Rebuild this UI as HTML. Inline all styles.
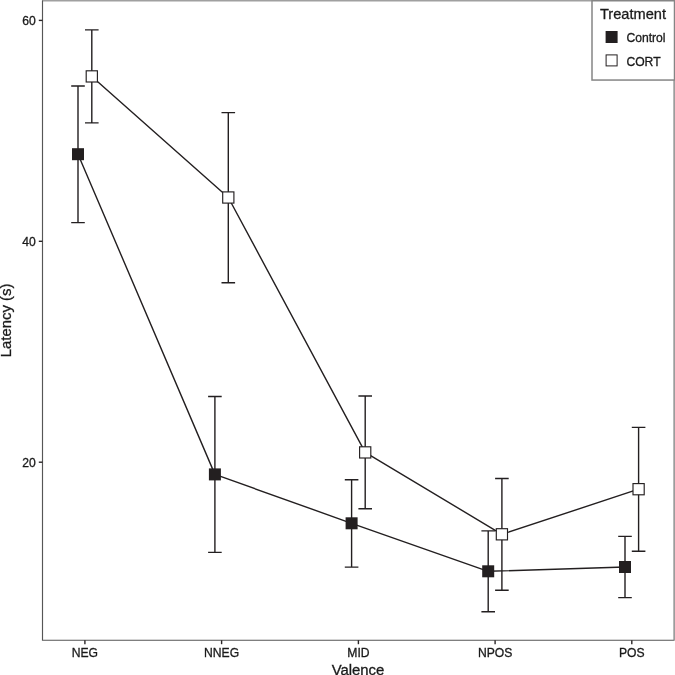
<!DOCTYPE html>
<html lang="en"><head><meta charset="utf-8"><title>Latency by Valence and Treatment</title>
<style>
html,body{margin:0;padding:0;background:#fff;}
body{width:675px;height:675px;overflow:hidden;}
svg{display:block;}
text{font-family:"Liberation Sans",Arial,Helvetica,sans-serif;fill:#1a1a1a;stroke:#1a1a1a;stroke-width:0.3px;}
.t12{font-size:12.15px;}
.t14{font-size:14.6px;}
.ta{font-size:14.9px;}
</style></head><body>
<svg width="675" height="675" viewBox="0 0 675 675">
<rect x="0" y="0" width="675" height="675" fill="#ffffff"/>
<path d="M42 0.75H675" fill="none" stroke="#a0a0a0" stroke-width="1.5"/>
<path d="M674.15 0V640.8" fill="none" stroke="#9c9c9c" stroke-width="1.7"/>
<path d="M42.5 0.5V640.2H673.8" fill="none" stroke="#565656" stroke-width="1.15"/>
<path d="M71.2 86.0H84.8M78.0 86.0V222.6M71.2 222.6H84.8" fill="none" stroke="#231f20" stroke-width="1.4"/>
<path d="M208.1 396.5H221.7M214.9 396.5V552.4M208.1 552.4H221.7" fill="none" stroke="#231f20" stroke-width="1.4"/>
<path d="M344.8 479.8H358.4M351.6 479.8V567.1M344.8 567.1H358.4" fill="none" stroke="#231f20" stroke-width="1.4"/>
<path d="M481.4 530.9H495.0M488.2 530.9V611.8M481.4 611.8H495.0" fill="none" stroke="#231f20" stroke-width="1.4"/>
<path d="M618.2 536.4H631.8M625.0 536.4V597.6M618.2 597.6H631.8" fill="none" stroke="#231f20" stroke-width="1.4"/>
<path d="M85.0 29.9H98.6M91.8 29.9V122.9M85.0 122.9H98.6" fill="none" stroke="#231f20" stroke-width="1.4"/>
<path d="M221.5 112.6H235.1M228.3 112.6V282.8M221.5 282.8H235.1" fill="none" stroke="#231f20" stroke-width="1.4"/>
<path d="M358.4 396.0H372.0M365.2 396.0V508.8M358.4 508.8H372.0" fill="none" stroke="#231f20" stroke-width="1.4"/>
<path d="M495.1 478.5H508.7M501.9 478.5V590.3M495.1 590.3H508.7" fill="none" stroke="#231f20" stroke-width="1.4"/>
<path d="M631.8 427.4H645.4M638.6 427.4V551.2M631.8 551.2H645.4" fill="none" stroke="#231f20" stroke-width="1.4"/>
<path d="M78.0 154.2 L214.9 474.4 L351.6 523.3 L488.2 571.3 L625.0 567.0" fill="none" stroke="#231f20" stroke-width="1.4" stroke-linejoin="round"/>
<path d="M91.8 76.4 L228.3 197.5 L365.2 452.4 L501.9 534.3 L638.6 489.2" fill="none" stroke="#231f20" stroke-width="1.4" stroke-linejoin="round"/>
<rect x="72.0" y="148.2" width="12" height="12" fill="#231f20"/>
<rect x="208.9" y="468.4" width="12" height="12" fill="#231f20"/>
<rect x="345.6" y="517.3" width="12" height="12" fill="#231f20"/>
<rect x="482.2" y="565.3" width="12" height="12" fill="#231f20"/>
<rect x="619.0" y="561.0" width="12" height="12" fill="#231f20"/>
<rect x="86.2" y="70.8" width="11.2" height="11.2" fill="#ffffff" stroke="#231f20" stroke-width="1.15"/>
<rect x="222.7" y="191.9" width="11.2" height="11.2" fill="#ffffff" stroke="#231f20" stroke-width="1.15"/>
<rect x="359.6" y="446.8" width="11.2" height="11.2" fill="#ffffff" stroke="#231f20" stroke-width="1.15"/>
<rect x="496.3" y="528.7" width="11.2" height="11.2" fill="#ffffff" stroke="#231f20" stroke-width="1.15"/>
<rect x="633.0" y="483.6" width="11.2" height="11.2" fill="#ffffff" stroke="#231f20" stroke-width="1.15"/>
<path d="M38.8 20.4H42.5" stroke="#2a2627" stroke-width="1.4"/>
<text x="35.8" y="24.95" text-anchor="end" class="t12">60</text>
<path d="M38.8 241.3H42.5" stroke="#2a2627" stroke-width="1.4"/>
<text x="35.8" y="245.85" text-anchor="end" class="t12">40</text>
<path d="M38.8 462.2H42.5" stroke="#2a2627" stroke-width="1.4"/>
<text x="35.8" y="466.75" text-anchor="end" class="t12">20</text>
<path d="M84.9 640.2V644.2" stroke="#2a2627" stroke-width="1.4"/>
<text x="84.9" y="656.8" text-anchor="middle" class="t12">NEG</text>
<path d="M221.6 640.2V644.2" stroke="#2a2627" stroke-width="1.4"/>
<text x="221.6" y="656.8" text-anchor="middle" class="t12">NNEG</text>
<path d="M358.4 640.2V644.2" stroke="#2a2627" stroke-width="1.4"/>
<text x="358.4" y="656.8" text-anchor="middle" class="t12">MID</text>
<path d="M495.1 640.2V644.2" stroke="#2a2627" stroke-width="1.4"/>
<text x="495.1" y="656.8" text-anchor="middle" class="t12">NPOS</text>
<path d="M631.8 640.2V644.2" stroke="#2a2627" stroke-width="1.4"/>
<text x="631.8" y="656.8" text-anchor="middle" class="t12">POS</text>
<text x="358" y="674.7" text-anchor="middle" class="ta">Valence</text>
<text transform="translate(11.2 320.4) rotate(-90)" text-anchor="middle" class="ta">Latency (s)</text>
<rect x="592" y="0.75" width="82.5" height="79.3" fill="#ffffff" stroke="#858585" stroke-width="1.5"/>
<text x="600" y="19.3" class="t14">Treatment</text>
<rect x="605.6" y="31" width="12" height="12" fill="#231f20"/>
<rect x="606.1" y="54.9" width="11" height="11" fill="#fff" stroke="#231f20" stroke-width="1"/>
<text x="626.4" y="41.8" class="t12">Control</text>
<text x="626.4" y="65.5" class="t12">CORT</text>
</svg>
</body></html>
